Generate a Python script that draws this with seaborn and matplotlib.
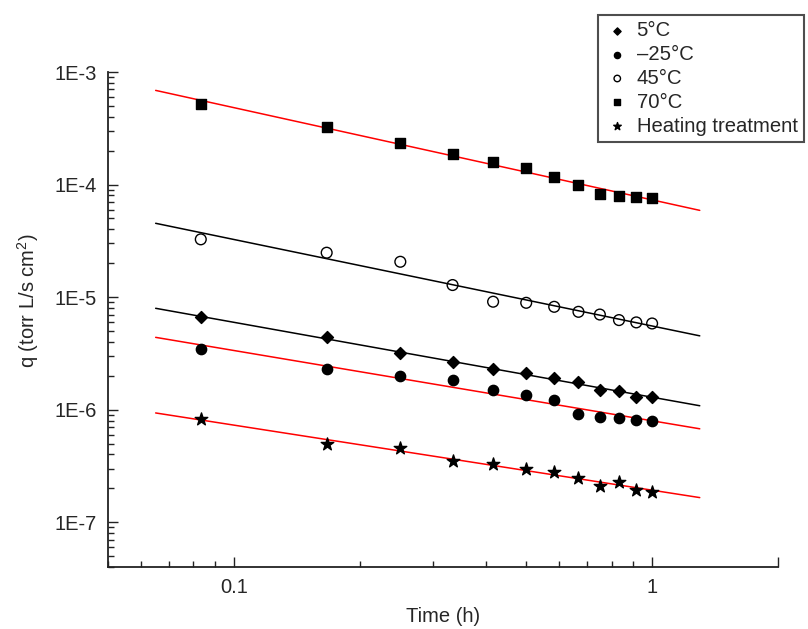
import numpy as np
import pandas as pd
import seaborn as sns
import matplotlib.pyplot as plt
from matplotlib import ticker

# sampling times (h), every 5 min
time_h = [1/12, 2/12, 3/12, 4/12, 5/12, 6/12, 7/12, 8/12, 9/12, 10/12, 11/12, 1.0]

q_5c = [6.6e-6, 4.4e-6, 3.16e-6, 2.66e-6, 2.29e-6, 2.10e-6, 1.93e-6, 1.77e-6, 1.49e-6, 1.46e-6, 1.30e-6, 1.30e-6]
q_m25c = [3.43e-6, 2.29e-6, 2.0e-6, 1.83e-6, 1.51e-6, 1.35e-6, 1.21e-6, 9.2e-7, 8.6e-7, 8.35e-7, 8.1e-7, 7.95e-7]
q_45c = [3.26e-5, 2.48e-5, 2.06e-5, 1.28e-5, 9.1e-6, 8.9e-6, 8.2e-6, 7.4e-6, 7.0e-6, 6.25e-6, 5.96e-6, 5.83e-6]
q_70c = [5.16e-4, 3.27e-4, 2.36e-4, 1.87e-4, 1.58e-4, 1.39e-4, 1.17e-4, 1.0e-4, 8.2e-5, 7.9e-5, 7.75e-5, 7.65e-5]
q_heat = [8.2e-7, 5.0e-7, 4.6e-7, 3.48e-7, 3.28e-7, 2.94e-7, 2.80e-7, 2.48e-7, 2.10e-7, 2.28e-7, 1.95e-7, 1.86e-7]

labels = ["5\u00b0C", "\u201325\u00b0C", "45\u00b0C", "70\u00b0C", "Heating treatment"]
fit_range = [0.065, 1.3]

sns.set_style("ticks")
plt.rcParams['font.family'] = ['Liberation Sans', 'DejaVu Sans']
plt.rcParams['mathtext.fontset'] = 'custom'
plt.rcParams['mathtext.rm'] = 'Liberation Sans'

series = [
    (q_5c, 'D', 'black', 'black', 37, 'black'),
    (q_m25c, 'o', 'black', 'black', 55, 'red'),
    (q_45c, 'o', 'none', 'black', 60, 'black'),
    (q_70c, 's', 'black', 'black', 55, 'red'),
    (q_heat, '*', 'black', 'black', 90, 'red'),
]

fig = plt.figure(figsize=(8.08, 6.29), dpi=100)
ax = fig.add_axes([108/808, 1 - 567/629, 670/808, 495/629])

for (q, mk, fc, ec, s, lc), lab in zip(series, labels):
    # power-law fit in log-log space
    slope, icpt = np.polyfit(np.log10(time_h), np.log10(q), 1)
    xf = np.array(fit_range)
    yf = 10 ** (icpt + slope * np.log10(xf))
    sns.lineplot(x=xf, y=yf, color=lc, lw=1.1, ax=ax, zorder=1)
    df = pd.DataFrame({'t': time_h, 'q': q})
    sns.scatterplot(data=df, x='t', y='q', marker=mk, s=s, ax=ax, color=ec,
                    facecolors=fc, edgecolor=ec, linewidth=1.0, label=lab, zorder=3,
                    legend=False)

ax.set_xscale('log')
ax.set_yscale('log')
ax.set_xlim(0.05, 2)
ax.set_ylim(4e-8, 1e-3)

ax.xaxis.set_major_locator(ticker.FixedLocator([0.1, 1, 2]))
ax.xaxis.set_major_formatter(ticker.FixedFormatter(['0.1', '1', '']))
ax.xaxis.set_minor_locator(ticker.LogLocator(base=10, subs=np.arange(2, 10), numticks=20))
ax.xaxis.set_minor_formatter(ticker.NullFormatter())
ax.yaxis.set_major_locator(ticker.LogLocator(base=10, numticks=20))
ax.yaxis.set_major_formatter(ticker.FuncFormatter(lambda v, p: "1E%d" % int(round(np.log10(v)))))
ax.yaxis.set_minor_locator(ticker.LogLocator(base=10, subs=np.arange(2, 10), numticks=20))
ax.yaxis.set_minor_formatter(ticker.NullFormatter())

ax.tick_params(which='major', direction='in', length=7, width=1.0, labelsize=14.5, pad=8, color='#222222')
ax.tick_params(which='minor', direction='in', length=4, width=1.0, color='#222222')
sns.despine(ax=ax)
for sp in ['left', 'bottom']:
    ax.spines[sp].set_linewidth(1.3)
    ax.spines[sp].set_color('#222222')

ax.set_xlabel('Time (h)', fontsize=14.5, labelpad=7)
ax.set_ylabel(r'q (torr L/s cm$^{2}$)', fontsize=14.5)
ax.yaxis.set_label_coords(-0.1, 0.537)

leg = ax.legend(loc='upper left', bbox_to_anchor=(598/808, 1 - 15/629), bbox_transform=fig.transFigure,
                fontsize=14.6, frameon=True, fancybox=False, markerscale=0.6, handlelength=1.3,
                handletextpad=0.3, labelspacing=0.24, borderpad=0.3, borderaxespad=0)
leg.get_frame().set_edgecolor('#222222')
leg.get_frame().set_linewidth(1.5)

fig.savefig('out.png', dpi=100)
